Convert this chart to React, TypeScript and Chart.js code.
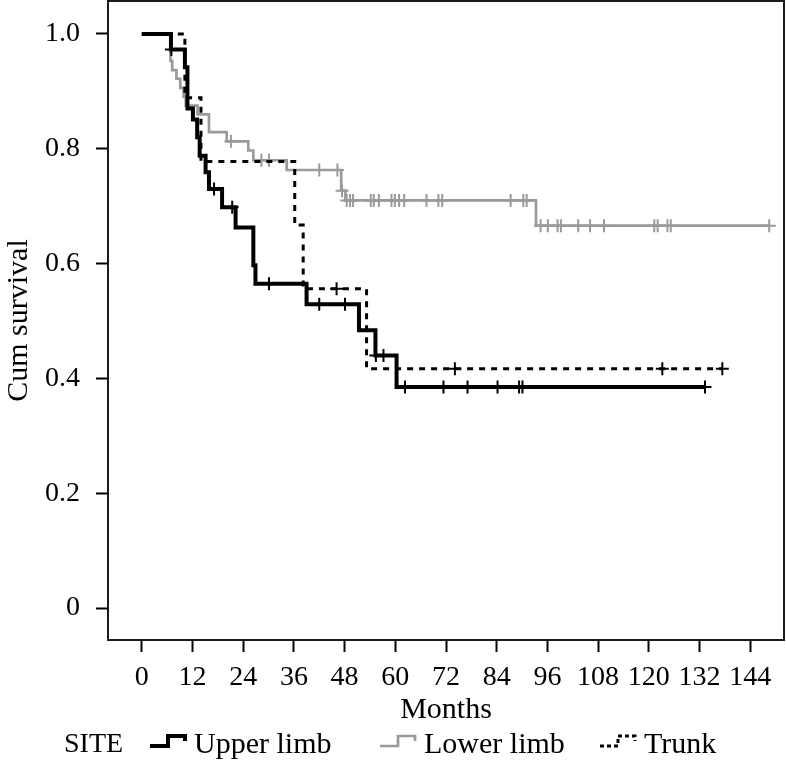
import React, { useEffect, useRef } from "react";
import { Chart, registerables } from "chart.js";

Chart.register(...registerables);

// ---- Data ----
const seriesNames = ["Upper limb", "Lower limb", "Trunk"];
const legendTitle = "SITE";
const xTitle = "Months";
const yTitle = "Cum survival";
const xTickValues = [0, 12, 24, 36, 48, 60, 72, 84, 96, 108, 120, 132, 144];
const yTickValues = [0, 0.2, 0.4, 0.6, 0.8, 1.0];

const upperEventTimes = [6.9, 10.2, 10.8, 12.1, 13.1, 13.7, 15.1, 15.9, 19.0, 22.2, 26.4, 26.9, 39.0, 51.4, 55.3, 60.3];
const upperSurvival = [0.973, 0.942, 0.87, 0.851, 0.82, 0.788, 0.759, 0.73, 0.698, 0.663, 0.597, 0.565, 0.529, 0.484, 0.44, 0.385];
const upperCensorTimes = [7.0, 17.1, 21.4, 30.1, 42.0, 48.1, 55.4, 57.2, 62.3, 71.4, 77.1, 84.2, 89.3, 90.1, 133.3];
const upperLastTime = 133.3;

const lowerEventTimes = [6.8, 7.2, 8.2, 9.1, 9.9, 10.4, 13.2, 15.9, 20.1, 25.2, 26.4, 34.3, 47.2, 48.2, 93.3];
const lowerSurvival = [0.953, 0.937, 0.922, 0.906, 0.891, 0.875, 0.86, 0.829, 0.813, 0.797, 0.78, 0.763, 0.727, 0.71, 0.666];
const lowerCensorTimes = [21.1, 28.3, 30.1, 42.0, 46.3, 47.4, 48.5, 49.3, 50.0, 54.2, 54.9, 56.1, 59.1, 59.9, 60.9, 62.1, 67.4, 70.2, 71.1, 87.3, 90.3, 91.1, 94.4, 96.1, 98.4, 99.2, 103.3, 106.1, 109.4, 121.3, 122.1, 124.4, 125.2, 148.5];
const lowerLastTime = 148.5;

const trunkEventTimes = [10.2, 14.0, 36.2, 38.2, 53.2];
const trunkSurvival = [0.889, 0.778, 0.667, 0.556, 0.417];
const trunkCensorTimes = [46.1, 74.1, 123.2, 137.4];
const trunkLastTime = 137.4;

// ---- Helpers ----
function stepPoints(times: number[], values: number[], last: number) {
  const pts: { x: number; y: number }[] = [{ x: 0, y: 1 }];
  let prev = 1;
  times.forEach((t, i) => {
    pts.push({ x: t, y: prev });
    pts.push({ x: t, y: values[i] });
    prev = values[i];
  });
  pts.push({ x: last, y: prev });
  return pts;
}
function survivalAt(times: number[], values: number[], t: number) {
  let s = 1;
  times.forEach((tt, i) => {
    if (tt <= t) s = values[i];
  });
  return s;
}
function censorPoints(times: number[], values: number[], censors: number[]) {
  return censors.map((t) => ({ x: t, y: survivalAt(times, values, t) }));
}

const FONT = "'Liberation Serif', 'Times New Roman', serif";
const BLACK = "#000000";
const GREY = "#9a9a9a";

const framePlugin = {
  id: "frame",
  afterDraw(chart: any) {
    const { ctx, chartArea } = chart;
    ctx.save();
    ctx.strokeStyle = "#1a1a1a";
    ctx.lineWidth = 2;
    ctx.strokeRect(chartArea.left, chartArea.top, chartArea.right - chartArea.left, chartArea.bottom - chartArea.top);
    ctx.restore();
  },
};

const legendPlugin = {
  id: "kmLegend",
  afterDraw(chart: any) {
    const ctx = chart.ctx;
    const y = 745;
    ctx.save();
    ctx.fillStyle = "#000";
    ctx.textBaseline = "middle";
    ctx.textAlign = "left";
    ctx.font = `28px ${FONT}`;
    ctx.fillText(legendTitle, 64, y);
    ctx.font = `30px ${FONT}`;
    const items = [
      { x: 150, color: BLACK, width: 4, dash: [] as number[], label: seriesNames[0] },
      { x: 380, color: GREY, width: 2.7, dash: [] as number[], label: seriesNames[1] },
      { x: 600, color: BLACK, width: 3, dash: [4, 3], label: seriesNames[2] },
    ];
    items.forEach((it) => {
      ctx.beginPath();
      ctx.setLineDash(it.dash);
      ctx.strokeStyle = it.color;
      ctx.lineWidth = it.width;
      ctx.moveTo(it.x, y + 1);
      ctx.lineTo(it.x + 18, y + 1);
      ctx.lineTo(it.x + 18, y - 9);
      ctx.lineTo(it.x + 35, y - 9);
      ctx.lineTo(it.x + 35, y - 4);
      ctx.stroke();
      ctx.setLineDash([]);
      ctx.fillStyle = "#000";
      ctx.fillText(it.label, it.x + 44, y);
    });
    ctx.restore();
  },
};

function zeroPadding(s: any) {
  s.paddingTop = 0;
  s.paddingBottom = 0;
  s.paddingLeft = 0;
  s.paddingRight = 0;
}

export default function App() {
  const ref = useRef<HTMLCanvasElement | null>(null);
  useEffect(() => {
    if (!ref.current) return;
    const lineCommon = { showLine: true, pointRadius: 0, pointHoverRadius: 0, fill: false, tension: 0 };
    const censorCommon = { showLine: false, pointStyle: "cross", pointRadius: 6.5, pointHoverRadius: 6.5 };
    const chart = new Chart(ref.current, {
      type: "scatter",
      data: {
        datasets: [
          { ...lineCommon, label: seriesNames[0], data: stepPoints(upperEventTimes, upperSurvival, upperLastTime), borderColor: BLACK, borderWidth: 4, order: 0 },
          { ...censorCommon, label: seriesNames[0] + " censored", data: censorPoints(upperEventTimes, upperSurvival, upperCensorTimes), borderColor: BLACK, backgroundColor: BLACK, pointBorderWidth: 2, order: 0 },
          { ...lineCommon, label: seriesNames[2], data: stepPoints(trunkEventTimes, trunkSurvival, trunkLastTime), borderColor: BLACK, borderWidth: 3, borderDash: [6, 6], order: 1 },
          { ...censorCommon, label: seriesNames[2] + " censored", data: censorPoints(trunkEventTimes, trunkSurvival, trunkCensorTimes), borderColor: BLACK, backgroundColor: BLACK, pointBorderWidth: 2, order: 1 },
          { ...lineCommon, label: seriesNames[1], data: stepPoints(lowerEventTimes, lowerSurvival, lowerLastTime), borderColor: GREY, borderWidth: 2.7, order: 2 },
          { ...censorCommon, label: seriesNames[1] + " censored", data: censorPoints(lowerEventTimes, lowerSurvival, lowerCensorTimes), borderColor: GREY, backgroundColor: GREY, pointBorderWidth: 2, order: 2 },
        ] as any,
      },
      options: {
        animation: false,
        responsive: false,
        devicePixelRatio: 1,
        layout: { autoPadding: false, padding: { left: 0, right: 2, top: 1, bottom: 32 } },
        plugins: { legend: { display: false }, tooltip: { enabled: false } },
        scales: {
          x: {
            type: "linear",
            min: -8,
            max: 152,
            afterBuildTicks: (s: any) => {
              s.ticks = xTickValues.map((v) => ({ value: v }));
            },
            afterFit: (s: any) => {
              s.height = 88;
              zeroPadding(s);
            },
            grid: { display: true, drawOnChartArea: false, drawTicks: true, tickLength: 12, tickWidth: 2, tickColor: "#000" },
            border: { display: false },
            ticks: { color: "#000", padding: 9, maxRotation: 0, autoSkip: false, font: { family: FONT, size: 28 } },
            title: { display: true, text: xTitle, color: "#000", padding: { top: 0, bottom: 0 }, font: { family: FONT, size: 30 } },
          },
          y: {
            type: "linear",
            min: -0.0557,
            max: 1.0574,
            afterBuildTicks: (s: any) => {
              s.ticks = yTickValues.map((v) => ({ value: v }));
            },
            afterFit: (s: any) => {
              s.width = 108;
              zeroPadding(s);
            },
            grid: { display: true, drawOnChartArea: false, drawTicks: true, tickLength: 12, tickWidth: 2, tickColor: "#000" },
            border: { display: false },
            ticks: {
              color: "#000",
              padding: 16,
              font: { family: FONT, size: 28 },
              callback: (v: any) => (Number(v) === 0 ? "0" : Number(v).toFixed(1)),
            },
            title: { display: true, text: yTitle, color: "#000", padding: { top: 1, bottom: 0 }, font: { family: FONT, size: 30 } },
          },
        },
      },
      plugins: [framePlugin, legendPlugin],
    } as any);
    return () => chart.destroy();
  }, []);
  return (
    <div style={{ position: "absolute", left: 0, top: 0, width: 786, height: 760, background: "#fff" }}>
      <canvas ref={ref} width={786} height={760} style={{ width: 786, height: 760, display: "block" }} />
    </div>
  );
}
